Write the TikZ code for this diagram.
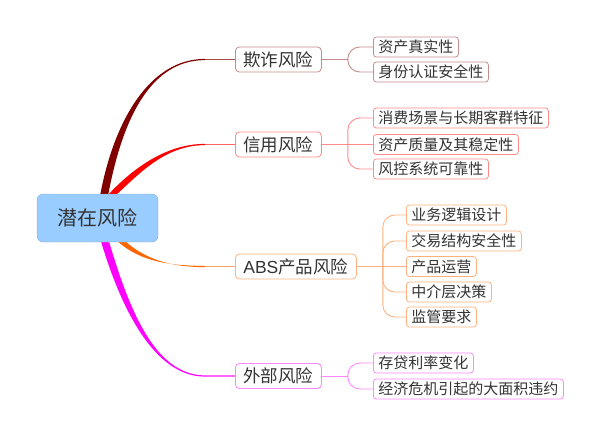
\documentclass[tikz,border=0pt]{standalone}
\usepackage{fontspec}
\setmainfont{Liberation Sans}
\newfontfamily\cjk{Noto Sans CJK SC}
\usetikzlibrary{calc,backgrounds}
\definecolor{txt}{HTML}{333333}
\definecolor{rootblue}{HTML}{99CCFF}
\definecolor{rootborder}{HTML}{8EAACB}
\definecolor{cA}{HTML}{800000}
\definecolor{cAl}{HTML}{C48C8C}
\definecolor{cB}{HTML}{FF0000}
\definecolor{cBl}{HTML}{FF8A8A}
\definecolor{cC}{HTML}{FF6600}
\definecolor{cCl}{HTML}{FFB27F}
\definecolor{cD}{HTML}{FF00FF}
\definecolor{cDl}{HTML}{FF88FF}
\tikzset{
  rootbox/.style={draw=rootborder, fill=rootblue, rounded corners=6pt,
    minimum width=121pt, minimum height=48pt, inner sep=0pt,
    font=\cjk\fontsize{20}{20}\selectfont, text=txt},
  mainbox/.style={draw=#1, fill=white, rounded corners=4pt, anchor=west,
    minimum height=25pt, inner xsep=8pt, inner ysep=0pt,
    font=\cjk\fontsize{17.5}{17.5}\selectfont, text=txt, line width=0.8pt},
  leafbox/.style={draw=#1, fill=white, rounded corners=3pt, anchor=west,
    minimum height=20pt, inner xsep=5pt, inner ysep=0pt,
    font=\cjk\fontsize{15}{15}\selectfont, text=txt, line width=0.8pt},
  sub/.style={draw=#1, line width=0.9pt, rounded corners=12pt},
}
\begin{document}
\begin{tikzpicture}[x=1pt,y=-1pt]
\useasboundingbox (0,0) rectangle (600,436);
\node[rootbox] (root) at (97.5,218) {潜在风险};

\node[mainbox=cAl] (b1) at (235,59.5) {欺诈风险};
\node[mainbox=cBl] (b2) at (235,144.5) {信用风险};
\node[mainbox=cCl] (b3) at (235,266.5) {{\rmfamily ABS}产品风险};
\node[mainbox=cDl] (b4) at (235,376) {外部风险};

\node[leafbox=cAl] (l11) at (373,47) {资产真实性};
\node[leafbox=cAl] (l12) at (373,72) {身份认证安全性};

\node[leafbox=cBl] (l21) at (373,118) {消费场景与长期客群特征};
\node[leafbox=cBl] (l22) at (373,144.5) {资产质量及其稳定性};
\node[leafbox=cBl] (l23) at (373,169) {风控系统可靠性};

\node[leafbox=cCl] (l31) at (406,215) {业务逻辑设计};
\node[leafbox=cCl] (l32) at (406,241) {交易结构安全性};
\node[leafbox=cCl] (l33) at (406,266.5) {产品运营};
\node[leafbox=cCl] (l34) at (406,292) {中介层决策};
\node[leafbox=cCl] (l35) at (406,317) {监管要求};

\node[leafbox=cDl] (l41) at (373,363) {存贷利率变化};
\node[leafbox=cDl] (l42) at (373,389) {经济危机引起的大面积违约};

\begin{pgfonlayer}{background}
% tapered main connectors
\coordinate (s1) at (104,196);
\coordinate (e1) at ($(b1.west)+(-30,0)$);
\fill[cA] ($(s1)+(-4,0)$) .. controls (114,120) and (150,58.8) .. ($(e1)+(0,-0.6)$)
  -- ($(e1)+(0,0.6)$) .. controls (150,60.2) and (122,120) .. ($(s1)+(4,0)$) -- cycle;
\draw[cA!70!white, line width=1.1pt] (e1) -- (b1.west);

\coordinate (s2) at (111,196);
\coordinate (e2) at ($(b2.west)+(-30,0)$);
\fill[cB] ($(s2)+(-4,0)$) .. controls (131,170) and (165,143.8) .. ($(e2)+(0,-0.6)$)
  -- ($(e2)+(0,0.6)$) .. controls (165,145.2) and (139,174) .. ($(s2)+(4,0)$) -- cycle;
\draw[cB!60!white, line width=1.1pt] (e2) -- (b2.west);

\coordinate (s3) at (118,238);
\coordinate (e3) at ($(b3.west)+(-30,0)$);
\fill[cC] ($(s3)+(-4,0)$) .. controls (136,260) and (165,265.8) .. ($(e3)+(0,-0.6)$)
  -- ($(e3)+(0,0.6)$) .. controls (165,267.2) and (140,256) .. ($(s3)+(4,0)$) -- cycle;
\draw[cC!60!white, line width=1.1pt] (e3) -- (b3.west);

\coordinate (s4) at (104,238);
\coordinate (e4) at ($(b4.west)+(-30,0)$);
\fill[cD] ($(s4)+(-4,0)$) .. controls (121,310) and (155,376.7) .. ($(e4)+(0,0.6)$)
  -- ($(e4)+(0,-0.6)$) .. controls (155,375.3) and (129,310) .. ($(s4)+(4,0)$) -- cycle;
\draw[cD!60!white, line width=1.1pt] (e4) -- (b4.west);
\end{pgfonlayer}

% sub connectors
\coordinate (j1) at ($(b1.east)+(26,0)$);
\draw[sub=cAl] (b1.east) -- (j1);
\draw[sub=cAl] (j1) |- (l11.west);
\draw[sub=cAl] (j1) |- (l12.west);

\coordinate (j2) at ($(b2.east)+(26,0)$);
\draw[sub=cBl] (b2.east) -- (j2);
\draw[sub=cBl] (j2) |- (l21.west);
\draw[sub=cBl] (j2) -- (l22.west);
\draw[sub=cBl] (j2) |- (l23.west);

\coordinate (j3) at ($(b3.east)+(26,0)$);
\draw[sub=cCl] (b3.east) -- (j3);
\draw[sub=cCl] (j3) |- (l31.west);
\draw[sub=cCl] (j3) |- (l32.west);
\draw[sub=cCl] (j3) -- (l33.west);
\draw[sub=cCl] (j3) |- (l34.west);
\draw[sub=cCl] (j3) |- (l35.west);

\coordinate (j4) at ($(b4.east)+(26,0)$);
\draw[sub=cDl] (b4.east) -- (j4);
\draw[sub=cDl] (j4) |- (l41.west);
\draw[sub=cDl] (j4) |- (l42.west);
\end{tikzpicture}
\end{document}
